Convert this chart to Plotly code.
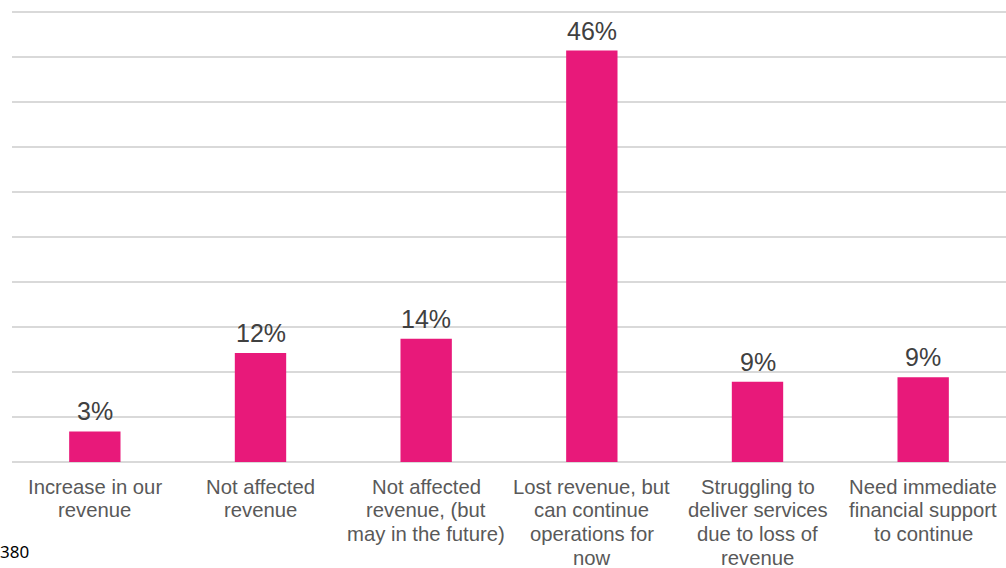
import plotly.graph_objects as go

# Survey responses: impact on revenue
categories = [
    "Increase in our<br>revenue",
    "Not affected<br>revenue",
    "Not affected<br>revenue, (but<br>may in the future)",
    "Lost revenue, but<br>can continue<br>operations for<br>now",
    "Struggling to<br>deliver services<br>due to loss of<br>revenue",
    "Need immediate<br>financial support<br>to continue",
]
shares = [3.4, 12.1, 13.7, 45.7, 8.9, 9.4]
base_count = "380"

bar_color = "#E8197A"
grid_color = "#D9D9D9"
label_color = "#595959"
value_color = "#404040"
font_family = "Liberation Sans, Arial, sans-serif"

fig = go.Figure()
fig.add_trace(go.Bar(
    x=list(range(len(categories))),
    y=shares,
    marker=dict(color=bar_color, line=dict(width=0)),
    width=0.31,
    hoverinfo="skip",
))

annotations = []
# value labels above each bar
for i, v in enumerate(shares):
    annotations.append(dict(
        x=i, y=v, xref="x", yref="y",
        text=f"{round(v)}%", showarrow=False,
        yanchor="bottom", yshift=4,
        font=dict(family=font_family, size=25, color=value_color),
    ))

# category labels, one annotation per line for tight line spacing
line_step = 23.8
for i, cat in enumerate(categories):
    for j, line in enumerate(cat.split("<br>")):
        annotations.append(dict(
            x=i, y=0, xref="x", yref="paper",
            text=line, showarrow=False,
            yanchor="middle", yshift=-(24.5 + j * line_step),
            font=dict(family=font_family, size=20.3, color=label_color),
        ))

# respondent base
annotations.append(dict(
    x=0, y=0, xref="paper", yref="paper",
    text=base_count, showarrow=False,
    xanchor="left", yanchor="middle",
    xshift=-13, yshift=-89, borderpad=0,
    font=dict(family="Noto Sans, sans-serif", size=17, color="#000000"),
))

fig.update_layout(
    width=1006, height=568,
    margin=dict(l=12, r=0, t=10, b=106),
    paper_bgcolor="white", plot_bgcolor="white",
    showlegend=False,
    annotations=annotations,
    xaxis=dict(
        range=[-0.5, len(categories) - 0.5],
        showticklabels=False, showgrid=False, zeroline=False,
        showline=False, ticks="", fixedrange=True,
    ),
    yaxis=dict(
        range=[0, 50.2], tick0=0, dtick=5,
        showticklabels=False, showgrid=True,
        gridcolor=grid_color, gridwidth=1.5,
        zeroline=True, zerolinecolor=grid_color, zerolinewidth=1.5,
        showline=False, ticks="", fixedrange=True,
    ),
)

fig.write_html("out.html")
